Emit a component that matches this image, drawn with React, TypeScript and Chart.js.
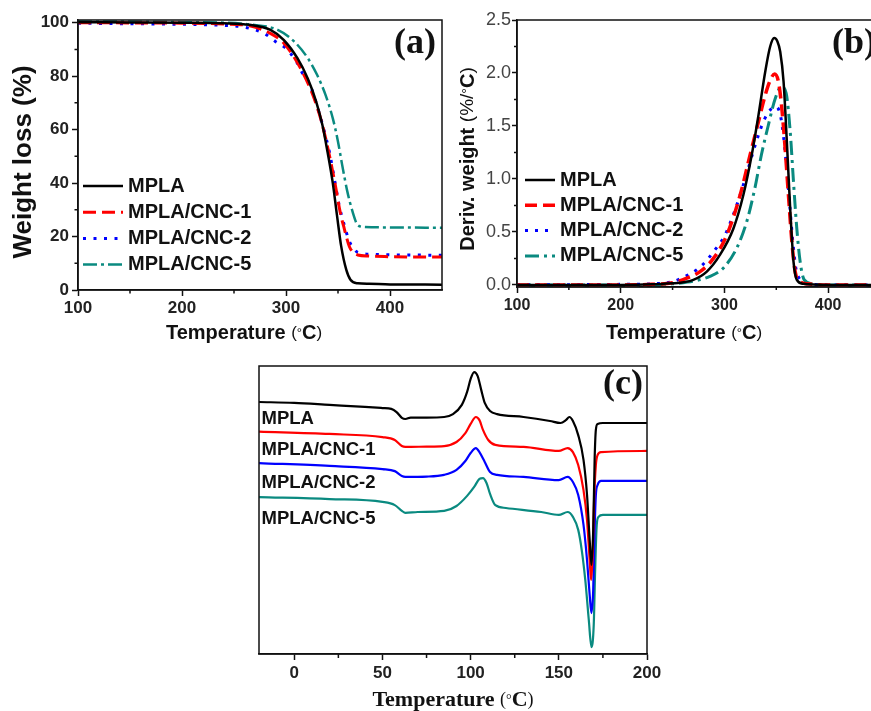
import React, { useEffect, useRef } from 'react';
import { Chart, registerables } from 'chart.js';
Chart.register(...registerables);

const SANS = '"Liberation Sans", Arial, sans-serif';
const SERIF = '"Liberation Serif", "Times New Roman", serif';

const seriesNames = ['MPLA', 'MPLA/CNC-1', 'MPLA/CNC-2', 'MPLA/CNC-5'];

// ---------- (a) TGA: weight loss (%) vs temperature ----------
const tgaTempMPLA = [100, 150, 200, 240, 265, 285, 298, 311, 321, 329, 335, 340, 345, 349, 353, 358, 362, 369, 380, 400, 450];
const tgaMPLA = [100.2, 100.1, 100, 99.8, 99.2, 97.3, 93.5, 86.7, 79, 70.5, 61.7, 51.5, 40, 28, 16.5, 7.5, 3.8, 2.5, 2.3, 2.1, 2.0];
const tgaTempCNC1 = [100, 150, 200, 240, 265, 285, 298, 314, 327, 335, 343, 348, 352, 356, 361, 365, 369, 380, 395, 450];
const tgaCNC1 = [100, 99.9, 99.8, 99.5, 98.8, 96, 92.3, 82.9, 71.7, 61.7, 48, 38, 29.3, 23, 16.2, 14, 13.1, 12.7, 12.5, 12.3];
const tgaTempCNC2 = [100, 150, 200, 240, 260, 279, 290, 300, 310, 316, 323, 332, 339, 342, 347, 351, 356, 361, 365, 369, 388, 450];
const tgaCNC2 = [99.8, 99.6, 99.4, 99, 98.3, 96, 92.9, 90.4, 85.4, 81, 76.7, 66.1, 56.1, 51.1, 40.5, 31.8, 24.3, 18.1, 15.5, 14.1, 13.3, 13];
const tgaTempCNC5 = [100, 150, 200, 240, 266, 292, 308, 321, 330, 338, 345, 350, 354, 359, 364, 369, 375, 400, 450];
const tgaCNC5 = [100.5, 100.4, 100.2, 100, 99.3, 97.3, 92.9, 86.7, 80.4, 73, 64.2, 55.5, 46.8, 36.8, 29.3, 24.3, 23.6, 23.4, 23.3];
const tgaXTicks = [100, 200, 300, 400];
const tgaXMinor = [150, 250, 350];
const tgaYTicks = [0, 20, 40, 60, 80, 100];
const tgaYMinor = [10, 30, 50, 70, 90];

// ---------- (b) DTG: deriv. weight (%/°C) vs temperature ----------
const dtgTempMPLA = [100, 200, 230, 250, 257, 270, 283, 295.5, 308.6, 318.3, 326.4, 332.8, 339.3, 344.1, 348, 351, 353.8, 357, 360.2, 363.4, 366.6, 369.8, 376, 400, 450];
const dtgMPLA = [0, 0, 0.005, 0.015, 0.02, 0.047, 0.125, 0.28, 0.53, 0.85, 1.23, 1.6, 2.01, 2.25, 2.33, 2.3, 2.2, 1.92, 1.35, 0.72, 0.22, 0.047, 0.01, 0, 0];
const dtgTempCNC1 = [100, 200, 230, 250, 263.7, 276.5, 289.4, 302.3, 315.2, 324.8, 332.8, 339.3, 344.1, 348.3, 352, 355.3, 358.5, 361.7, 365, 368.2, 373, 380, 400, 450];
const dtgCNC1 = [0, 0, 0.005, 0.02, 0.063, 0.125, 0.25, 0.47, 0.85, 1.23, 1.54, 1.79, 1.93, 1.99, 1.92, 1.67, 1.29, 0.85, 0.41, 0.125, 0.03, 0.01, 0, 0];
const dtgTempCNC2 = [100, 200, 230, 250, 260, 270, 280, 290, 300, 310, 320, 330, 338, 345, 350, 354, 357, 360, 363, 366, 369, 373, 380, 400, 450];
const dtgCNC2 = [0, 0.005, 0.01, 0.03, 0.07, 0.12, 0.2, 0.32, 0.46, 0.7, 1.0, 1.33, 1.55, 1.66, 1.68, 1.6, 1.4, 1.1, 0.75, 0.4, 0.15, 0.05, 0.01, 0, 0];
const dtgTempCNC5 = [100, 200, 230, 250, 260, 286, 299, 312, 321.6, 329.3, 335.7, 342.4, 349, 355, 359.5, 363.4, 366.6, 369.8, 373, 376.8, 385, 400, 450];
const dtgCNC5 = [0, 0, 0, 0.01, 0.02, 0.08, 0.16, 0.35, 0.6, 0.91, 1.23, 1.51, 1.76, 1.87, 1.81, 1.45, 0.97, 0.53, 0.22, 0.05, 0.01, 0, 0];
const dtgXTicks = [100, 200, 300, 400];
const dtgXMinor = [150, 250, 350, 450];
const dtgYTicks = [0, 0.5, 1, 1.5, 2, 2.5];
const dtgYMinor = [0.25, 0.75, 1.25, 1.75, 2.25];

// ---------- (c) DSC: heat flow (a.u., endo down) vs temperature ----------
const dscTempMPLA = [-20, 0, 20, 40, 50, 55, 58, 61, 63, 66, 75, 85, 90, 95, 98, 100, 102, 104, 106, 108, 111, 115, 130, 145, 151, 154, 156, 158, 161, 164, 166, 167.5, 168.5, 169.5, 170.3, 171, 172, 175, 200];
const dscMPLA = [87.5, 87.2, 86.5, 85.8, 85.4, 85.1, 84, 82, 81.6, 82.1, 82.1, 82.3, 83.3, 86.5, 91, 95.5, 97.9, 96.5, 91.7, 87.2, 84.4, 83.3, 82.3, 80.9, 80.2, 81.2, 82.3, 80.9, 76, 67.4, 55.2, 39.6, 30.9, 43, 67.4, 77.8, 79.9, 80.2, 80.2];
const dscTempCNC1 = [-20, 20, 50, 57, 61, 63, 75, 85, 92, 97, 100, 103, 105, 107, 110, 114, 130, 150, 155, 158, 161, 164, 166, 167.5, 168.3, 169.2, 170, 171, 172, 174, 200];
const dscCNC1 = [77.2, 76.4, 75.3, 74.3, 72.2, 71.9, 72, 72.2, 73.6, 76.7, 79.9, 82.3, 81.2, 77.8, 74.3, 72.6, 71.9, 70.5, 71.5, 70.1, 65.6, 56.9, 46.5, 32.6, 25.7, 34.4, 53.5, 65.6, 69.1, 70.1, 70.5];
const dscTempCNC2 = [-20, 20, 50, 57, 61, 63, 75, 85, 92, 97, 100, 103, 105, 108, 111, 115, 130, 150, 155, 158, 161, 164, 166, 167.5, 168.5, 169.5, 170.3, 171, 172, 174, 200];
const dscCNC2 = [66.3, 65.3, 64.2, 63.5, 61.8, 61.5, 61.6, 62.2, 63.9, 67, 69.8, 71.5, 70.1, 66.7, 63.2, 62.2, 61.5, 60.4, 61.5, 59.7, 55.2, 44.8, 32.6, 20.5, 14.2, 22.2, 43.1, 55.2, 58.7, 60.1, 60.1];
const dscTempCNC5 = [-20, 20, 50, 57, 61, 63, 70, 85, 92, 98, 102, 105, 107, 109, 111, 114, 120, 140, 150, 155, 158, 161, 163, 165, 167, 168.5, 169.8, 170.6, 171.5, 172.5, 175, 200];
const dscCNC5 = [54.5, 53.8, 52.8, 51.7, 49.7, 49, 49.3, 49.7, 51.4, 54.9, 58, 60.8, 61.1, 59.4, 55.6, 51.7, 50.7, 49.3, 48.3, 49.3, 47.6, 43.1, 36.1, 25.7, 11.8, 2.4, 10.1, 29.2, 44.8, 47.6, 48.3, 48.3];
const dscXTicks = [0, 50, 100, 150, 200];
const dscXMinor = [25, 75, 125, 175];
const dscLabelLevels = [81.6, 70.8, 59.4, 46.9];

const colors = ['#000000', '#ff0000', '#0000ff', '#0a8a80'];

type Part = { t: string; font: string; color?: string };
type Label = { parts: Part[]; x: number; y: number; rot?: number; align?: 'center' | 'left' };

function drawLabel(ctx: CanvasRenderingContext2D, l: Label) {
  ctx.save();
  ctx.translate(l.x, l.y);
  if (l.rot) ctx.rotate(l.rot);
  const widths = l.parts.map((p) => {
    ctx.font = p.font;
    return ctx.measureText(p.t).width;
  });
  const total = widths.reduce((s, w) => s + w, 0);
  let cx = l.align === 'left' ? 0 : -total / 2;
  ctx.textBaseline = 'middle';
  ctx.textAlign = 'left';
  l.parts.forEach((p, i) => {
    ctx.font = p.font;
    ctx.fillStyle = p.color || '#111';
    ctx.fillText(p.t, cx, 0);
    cx += widths[i];
  });
  ctx.restore();
}

type DecorCfg = {
  minorX?: number[];
  minorY?: number[];
  minorLen?: number;
  legend?: { x: number; y: number; dy: number; len: number; gap: number; font: string };
  labels?: Label[];
  dataLabels?: { text: string; x: number; y: number; font: string }[];
};

function decorPlugin(cfg: DecorCfg) {
  return {
    id: 'decor',
    afterDraw(chart: any) {
      const { ctx, chartArea: a, scales } = chart;
      ctx.save();
      ctx.strokeStyle = '#111';
      ctx.lineWidth = 1.5;
      ctx.setLineDash([]);
      ctx.strokeRect(a.left, a.top, a.right - a.left, a.bottom - a.top);
      const len = cfg.minorLen ?? 3;
      ctx.beginPath();
      (cfg.minorX || []).forEach((v) => {
        const px = scales.x.getPixelForValue(v);
        ctx.moveTo(px, a.bottom);
        ctx.lineTo(px, a.bottom + len);
      });
      (cfg.minorY || []).forEach((v) => {
        const py = scales.y.getPixelForValue(v);
        ctx.moveTo(a.left, py);
        ctx.lineTo(a.left - len, py);
      });
      ctx.stroke();
      if (cfg.legend) {
        const L = cfg.legend;
        chart.data.datasets.forEach((ds: any, i: number) => {
          const y = L.y + i * L.dy;
          ctx.save();
          ctx.strokeStyle = ds.borderColor;
          ctx.lineWidth = ds.borderWidth;
          ctx.setLineDash(ds.borderDash || []);
          ctx.beginPath();
          ctx.moveTo(L.x, y);
          ctx.lineTo(L.x + L.len, y);
          ctx.stroke();
          ctx.restore();
          ctx.font = L.font;
          ctx.fillStyle = '#111';
          ctx.textBaseline = 'middle';
          ctx.textAlign = 'left';
          ctx.fillText(ds.label, L.x + L.len + L.gap, y);
        });
      }
      (cfg.dataLabels || []).forEach((d) => {
        ctx.font = d.font;
        ctx.fillStyle = '#111';
        ctx.textBaseline = 'middle';
        ctx.textAlign = 'left';
        ctx.fillText(d.text, scales.x.getPixelForValue(d.x), scales.y.getPixelForValue(d.y));
      });
      (cfg.labels || []).forEach((l) => drawLabel(ctx, l));
      ctx.restore();
    },
  };
}

function series(label: string, xs: number[], ys: number[], color: string, width: number, dash: number[]) {
  return {
    label,
    data: xs.map((x, i) => ({ x, y: ys[i] })),
    borderColor: color,
    borderWidth: width,
    borderDash: dash,
    pointRadius: 0,
    fill: false,
    tension: 0.4,
    cubicInterpolationMode: 'monotone',
  };
}

const setTicks = (vals: number[]) => (s: any) => {
  s.ticks = vals.map((v) => ({ value: v }));
};

function axisGrid(len: number) {
  return { display: true, drawOnChartArea: false, drawTicks: true, tickLength: len, tickColor: '#111', tickWidth: 1.5 };
}
const border = { display: true, color: '#111', width: 1.5 };

function tempTitle(x: number, y: number, family: string, big: number, small: number): Label {
  return {
    x,
    y,
    parts: [
      { t: 'Temperature ', font: `bold ${big}px ${family}` },
      { t: '(', font: `${small}px ${family}` },
      { t: '°', font: `${Math.round(small * 0.75)}px ${family}` },
      { t: 'C', font: `bold ${big}px ${family}` },
      { t: ')', font: `${small}px ${family}` },
    ],
  };
}

function tgaConfig(): any {
  return {
    type: 'line',
    data: {
      datasets: [
        series(seriesNames[0], tgaTempMPLA, tgaMPLA, colors[0], 2.5, []),
        series(seriesNames[1], tgaTempCNC1, tgaCNC1, colors[1], 3, [13, 6]),
        series(seriesNames[2], tgaTempCNC2, tgaCNC2, colors[2], 3, [3, 7.5]),
        series(seriesNames[3], tgaTempCNC5, tgaCNC5, colors[3], 2.5, [14, 4, 3, 4]),
      ],
    },
    options: {
      responsive: false,
      animation: false,
      devicePixelRatio: 1,
      layout: { padding: { top: 20, right: 3, left: 0, bottom: 0 } },
      plugins: { legend: { display: false }, tooltip: { enabled: false } },
      scales: {
        x: {
          type: 'linear',
          min: 100,
          max: 450,
          afterBuildTicks: setTicks(tgaXTicks),
          afterFit: (s: any) => { s.height = 55; },
          grid: axisGrid(6),
          border,
          ticks: { font: { family: SANS, size: 17, weight: 'bold' }, color: '#222', padding: 2, maxRotation: 0, autoSkip: false },
        },
        y: {
          type: 'linear',
          min: 0,
          max: 101,
          afterBuildTicks: setTicks(tgaYTicks),
          afterFit: (s: any) => { s.width = 78; },
          grid: axisGrid(6),
          border,
          ticks: { font: { family: SANS, size: 17, weight: 'bold' }, color: '#222', padding: 3, autoSkip: false },
        },
      },
    },
    plugins: [
      decorPlugin({
        minorX: tgaXMinor,
        minorY: tgaYMinor,
        minorLen: 3.5,
        legend: { x: 83, y: 186, dy: 26.2, len: 40, gap: 5, font: `bold 20px ${SANS}` },
        labels: [
          tempTitle(244, 333, SANS, 20, 17),
          { x: 24, y: 162, rot: -Math.PI / 2, parts: [{ t: 'Weight loss (%)', font: `bold 26px ${SANS}` }] },
          { x: 415, y: 44, parts: [{ t: '(a)', font: `bold 36px ${SERIF}` }] },
        ],
      }),
    ],
  };
}

function dtgConfig(): any {
  return {
    type: 'line',
    data: {
      datasets: [
        series(seriesNames[0], dtgTempMPLA, dtgMPLA, colors[0], 2.5, []),
        series(seriesNames[1], dtgTempCNC1, dtgCNC1, colors[1], 3.5, [12, 6]),
        series(seriesNames[2], dtgTempCNC2, dtgCNC2, colors[2], 3, [3, 7]),
        series(seriesNames[3], dtgTempCNC5, dtgCNC5, colors[3], 3, [14, 5, 3, 5]),
      ],
    },
    options: {
      responsive: false,
      animation: false,
      devicePixelRatio: 1,
      layout: { padding: { top: 20, right: 5, left: 0, bottom: 0 } },
      plugins: { legend: { display: false }, tooltip: { enabled: false } },
      scales: {
        x: {
          type: 'linear',
          min: 100,
          max: 450,
          afterBuildTicks: setTicks(dtgXTicks),
          afterFit: (s: any) => { s.height = 58; },
          grid: axisGrid(6),
          border,
          ticks: { font: { family: SANS, size: 16, weight: 'bold' }, color: '#222', padding: 3, maxRotation: 0, autoSkip: false },
        },
        y: {
          type: 'linear',
          min: -0.02,
          max: 2.5,
          afterBuildTicks: setTicks(dtgYTicks),
          afterFit: (s: any) => { s.width = 77; },
          grid: axisGrid(5),
          border,
          ticks: {
            font: { family: SANS, size: 18 },
            color: '#444',
            padding: 1,
            autoSkip: false,
            callback: (v: any) => Number(v).toFixed(1),
          },
        },
      },
    },
    plugins: [
      decorPlugin({
        minorX: dtgXMinor,
        minorY: dtgYMinor,
        minorLen: 3,
        legend: { x: 85, y: 180, dy: 25.3, len: 30, gap: 5, font: `bold 20px ${SANS}` },
        labels: [
          tempTitle(244, 333, SANS, 20, 17),
          {
            x: 28,
            y: 159,
            rot: -Math.PI / 2,
            parts: [
              { t: 'Deriv. weight ', font: `bold 20px ${SANS}` },
              { t: '(%/', font: `19px ${SANS}` },
              { t: '°', font: `14px ${SANS}` },
              { t: 'C', font: `bold 20px ${SANS}` },
              { t: ')', font: `19px ${SANS}` },
            ],
          },
          { x: 392, y: 44, align: 'left', parts: [{ t: '(b)', font: `bold 36px ${SERIF}` }] },
        ],
      }),
    ],
  };
}

function dscConfig(): any {
  return {
    type: 'line',
    data: {
      datasets: [
        series(seriesNames[0], dscTempMPLA, dscMPLA, colors[0], 2.2, []),
        series(seriesNames[1], dscTempCNC1, dscCNC1, colors[1], 2.2, []),
        series(seriesNames[2], dscTempCNC2, dscCNC2, colors[2], 2.2, []),
        series(seriesNames[3], dscTempCNC5, dscCNC5, colors[3], 2.2, []),
      ],
    },
    options: {
      responsive: false,
      animation: false,
      devicePixelRatio: 1,
      layout: { padding: { top: 6, right: 23, left: 59, bottom: 0 } },
      plugins: { legend: { display: false }, tooltip: { enabled: false } },
      scales: {
        x: {
          type: 'linear',
          min: -20,
          max: 200,
          afterBuildTicks: setTicks(dscXTicks),
          afterFit: (s: any) => { s.height = 57; },
          grid: axisGrid(6),
          border,
          ticks: { font: { family: SANS, size: 17, weight: 'bold' }, color: '#222', padding: 3, maxRotation: 0, autoSkip: false },
        },
        y: { type: 'linear', min: 0, max: 100, display: false },
      },
    },
    plugins: [
      decorPlugin({
        minorX: dscXMinor,
        minorLen: 4,
        dataLabels: seriesNames.map((n, i) => ({ text: n, x: -18.6, y: dscLabelLevels[i], font: `bold 18.5px ${SANS}` })),
        labels: [
          tempTitle(253, 340, SERIF, 22, 18),
          { x: 423, y: 25, parts: [{ t: '(c)', font: `bold 36px ${SERIF}` }] },
        ],
      }),
    ],
  };
}

function ChartBox(props: { left: number; top: number; width: number; height: number; make: () => any }) {
  const ref = useRef<HTMLCanvasElement>(null);
  useEffect(() => {
    const chart = new Chart(ref.current as HTMLCanvasElement, props.make());
    return () => chart.destroy();
  }, []);
  return (
    <canvas
      ref={ref}
      width={props.width}
      height={props.height}
      style={{ position: 'absolute', left: props.left, top: props.top, width: props.width, height: props.height }}
    />
  );
}

export default function App() {
  return (
    <div style={{ position: 'fixed', left: 0, top: 0, width: 871, height: 711, overflow: 'hidden', background: '#fff' }}>
      <ChartBox left={0} top={0} width={445} height={345} make={tgaConfig} />
      <ChartBox left={440} top={0} width={445} height={345} make={dtgConfig} />
      <ChartBox left={200} top={360} width={470} height={351} make={dscConfig} />
    </div>
  );
}
